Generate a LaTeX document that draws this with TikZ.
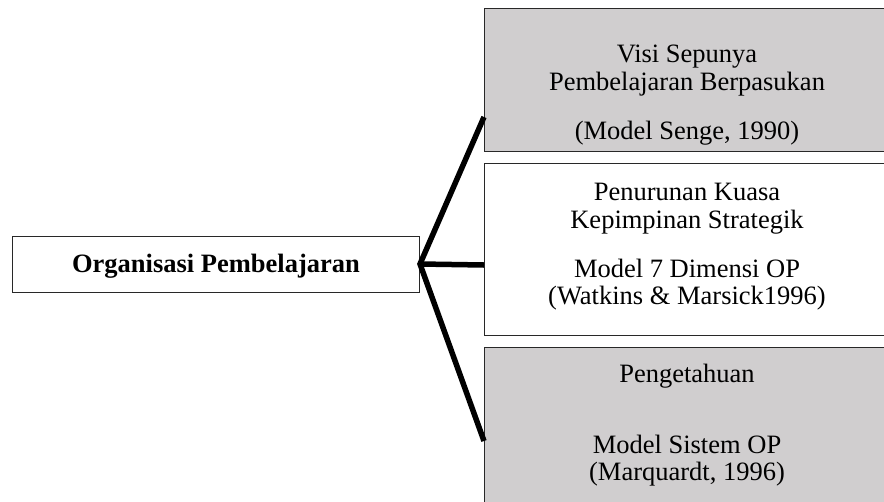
\documentclass[tikz,border=0pt]{standalone}
\usepackage{fontspec}
\setmainfont{Liberation Serif}
\definecolor{boxgray}{RGB}{208,206,207}
\definecolor{edgegray}{RGB}{40,40,40}
\begin{document}
\begin{tikzpicture}[x=1pt,y=-1pt,
  box/.style={draw=edgegray,line width=1pt,rectangle,inner sep=0pt,anchor=north west},
  txt/.style={font=\fontsize{26.5}{30}\selectfont,anchor=base,inner sep=0pt},
  conn/.style={line width=5.5pt,black,line join=miter,line cap=butt}]
\useasboundingbox (0,0) rectangle (884,501);
\begin{scope}
\clip (0,0) rectangle (884,501);
% boxes
\node[box,fill=boxgray,minimum width=410pt,minimum height=143pt] (top) at (484,8) {};
\node[box,fill=white,minimum width=410pt,minimum height=172pt] (mid) at (484,163) {};
\node[box,fill=boxgray,minimum width=410pt,minimum height=170pt] (bot) at (484,347) {};
\node[box,fill=white,minimum width=407pt,minimum height=56pt] (org) at (12,236) {};
\end{scope}
% texts
\node[txt,font=\fontsize{26.5}{30}\selectfont\bfseries] (orgt) at (216,272) {Organisasi Pembelajaran};
\node[txt] (t1) at (687,62) {Visi Sepunya};
\node[txt] (t2) at (687,90) {Pembelajaran Berpasukan};
\node[txt] (t3) at (687,139) {(Model Senge, 1990)};
\node[txt] (m1) at (687,200) {Penurunan Kuasa};
\node[txt] (m2) at (687,228) {Kepimpinan Strategik};
\node[txt] (m3) at (687,277) {Model 7 Dimensi OP};
\node[txt] (m4) at (687,304) {(Watkins \& Marsick1996)};
\node[txt] (b1) at (687,382) {Pengetahuan};
\node[txt] (b2) at (687,453) {Model Sistem OP};
\node[txt] (b3) at (687,480) {(Marquardt, 1996)};
% connectors
\coordinate (hub) at (org.east |- 0,264);
\coordinate (ct) at (top.west |- 0,117);
\coordinate (cm) at (mid.west |- 0,265);
\coordinate (cb) at (bot.west |- 0,441);
\draw[conn] (ct) -- (hub) -- (cb);
\draw[conn] (hub) -- (cm);
\end{tikzpicture}
\end{document}
